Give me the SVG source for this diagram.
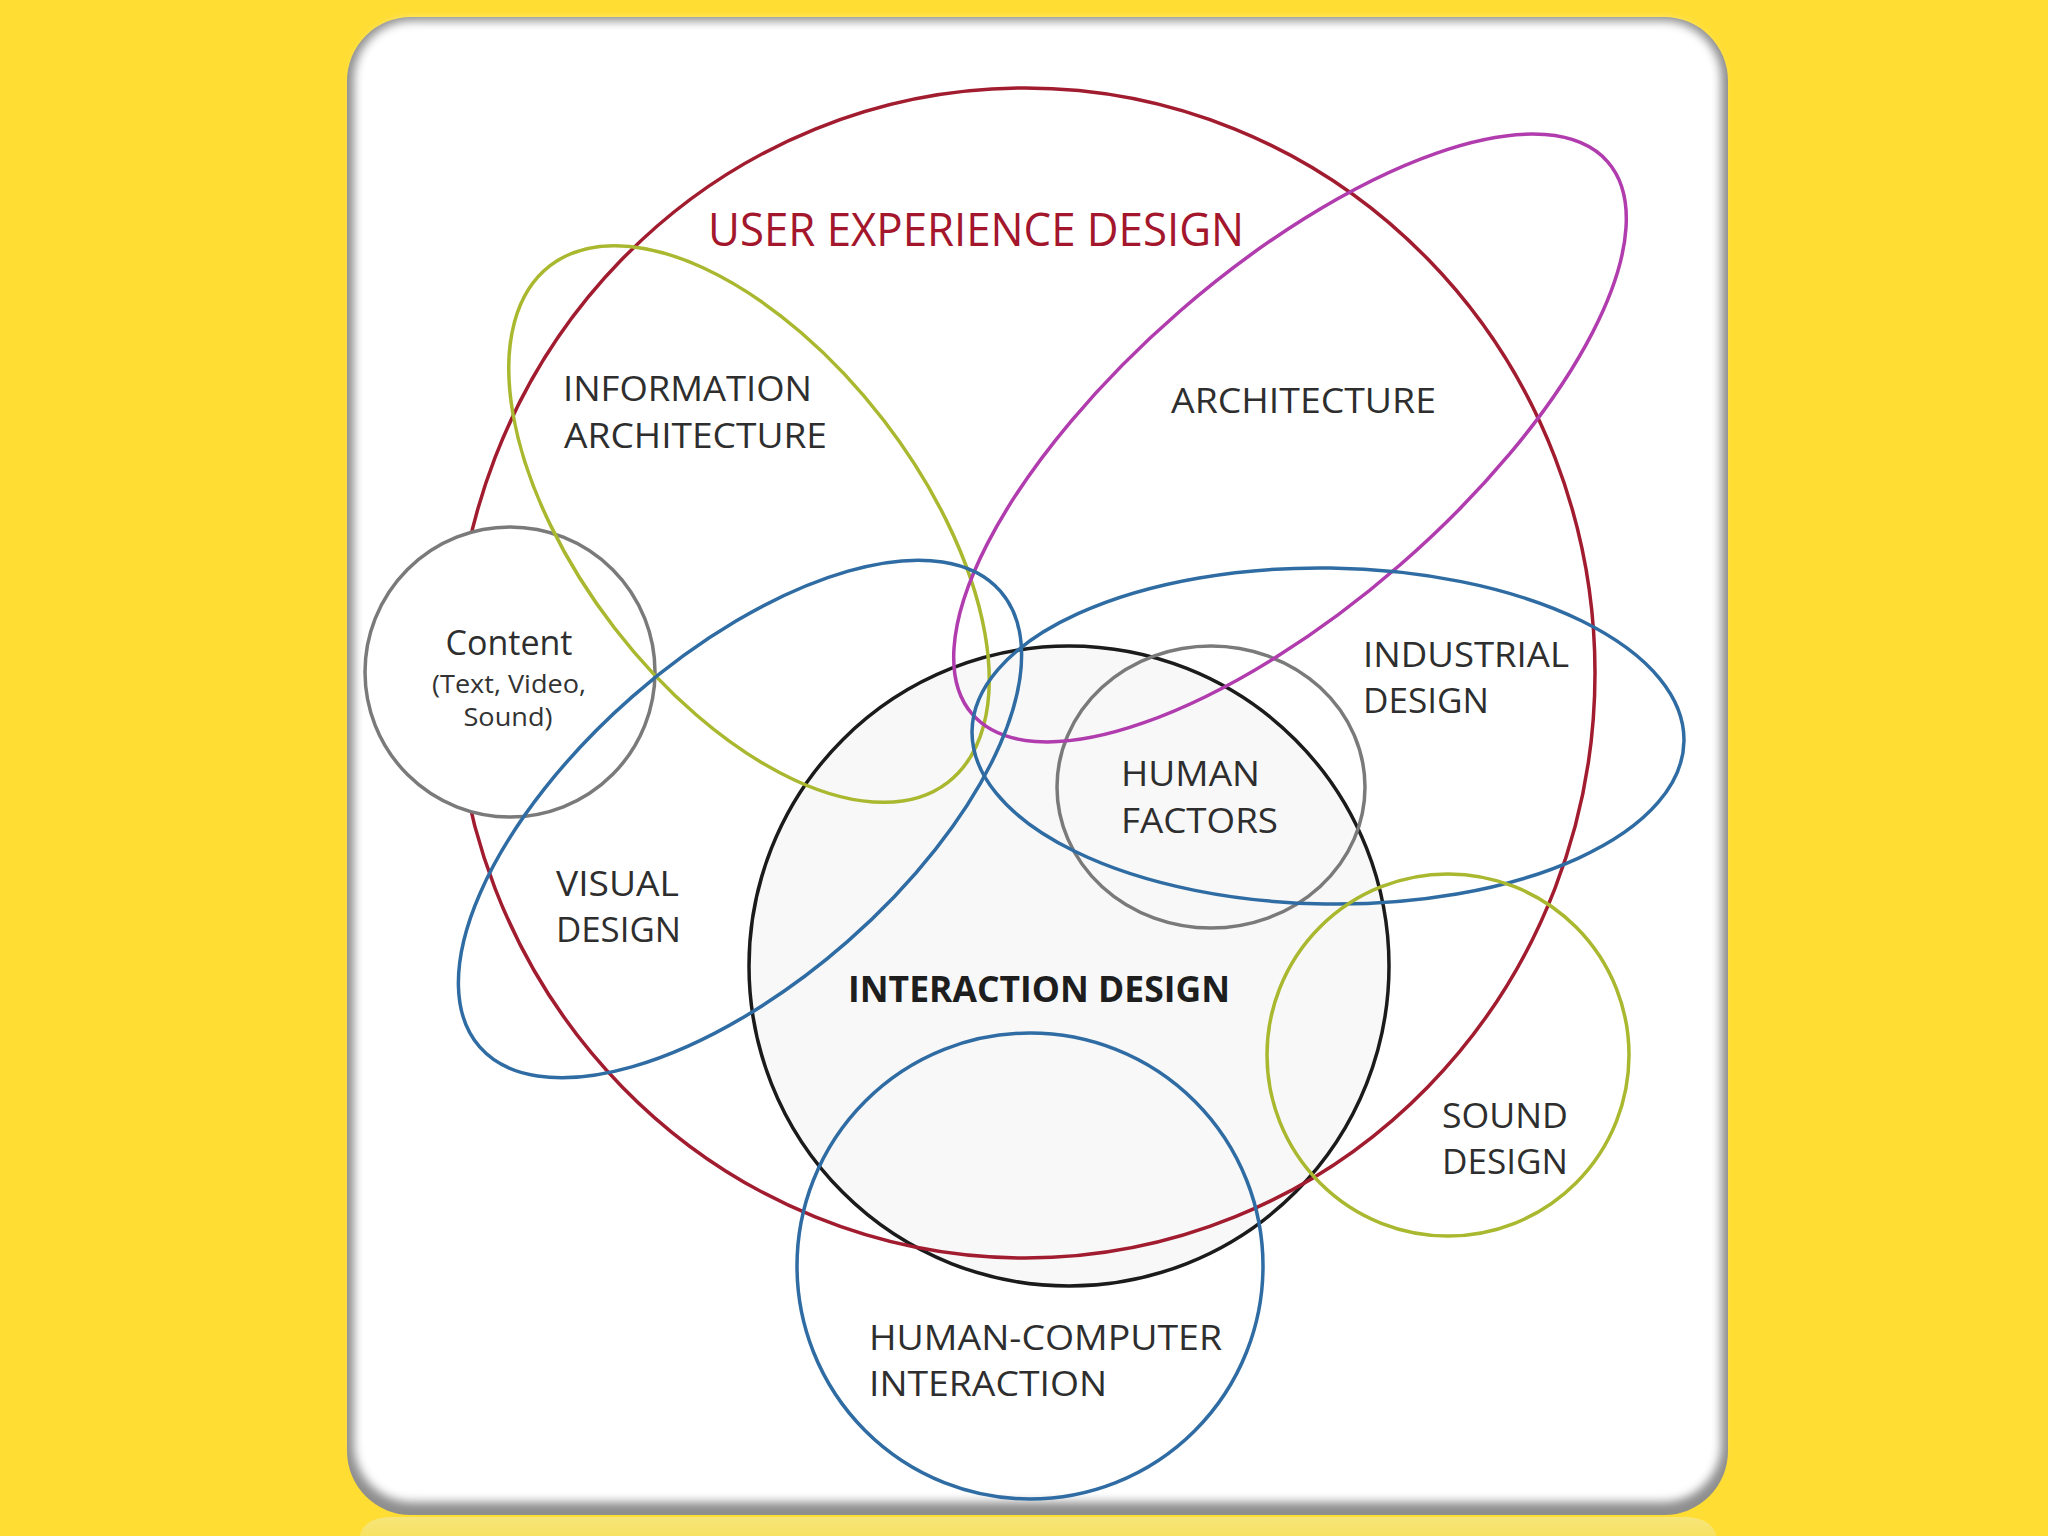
<svg xmlns="http://www.w3.org/2000/svg" width="2048" height="1536" viewBox="0 0 2048 1536">
  <defs>
    <filter id="soft" x="-5%" y="-5%" width="110%" height="110%">
      <feGaussianBlur stdDeviation="5"/>
    </filter>
    <linearGradient id="refl" x1="0" y1="0" x2="0" y2="1">
      <stop offset="0" stop-color="#F6E57A"/>
      <stop offset="1" stop-color="#FADF4A"/>
    </linearGradient>
  </defs>
  <style>
    .ring { fill: none; stroke-width: 3.5; }
    .filled-white { fill: #ffffff; stroke-width: 3.5; }
    .filled-gray { fill: #f8f8f9; stroke-width: 3.5; }
    .red { stroke: #a21c30; }
    .mag { stroke: #b03cae; }
    .lime { stroke: #a9b82e; }
    .blue { stroke: #2f6ca3; }
    .gray { stroke: #7a7a7a; }
    .black { stroke: #1b1b1b; }
    .lbl { font-family: "Open Sans", "Noto Sans", sans-serif; font-size: 35px; fill: #2e2e2e; }
    .title { font-family: "Open Sans", "Noto Sans", sans-serif; font-size: 46px; fill: #a3162c; }
    .bold { font-family: "Open Sans", "Noto Sans", sans-serif; font-size: 35px; font-weight: bold; fill: #1e1e1e; }
    .sub { font-family: "Open Sans", "Noto Sans", sans-serif; font-size: 26px; fill: #333; }
  </style>

  <!-- background -->
  <rect x="0" y="0" width="2048" height="1536" fill="#FFDD33"/>
  <rect x="360" y="1517" width="1356" height="40" rx="30" fill="url(#refl)"/>
  <!-- card -->
  <rect x="347" y="17" width="1381" height="1498" rx="64" fill="#8e8e8e"/>
  <rect x="354" y="21" width="1367" height="1481" rx="58" fill="#ffffff" filter="url(#soft)"/>

  <g id="interaction-design">
    <circle cx="1069" cy="966" r="320" class="filled-gray black"/>
  </g>
  <g id="user-experience-design">
    <ellipse cx="1025" cy="673" rx="570" ry="585" class="ring red"/>
  </g>
  <g id="content">
    <circle cx="510" cy="672" r="145" class="filled-white gray"/>
  </g>
  <g id="human-factors">
    <ellipse cx="1211" cy="787" rx="154" ry="141" class="ring gray"/>
  </g>
  <g id="information-architecture">
    <ellipse cx="749" cy="524" rx="326" ry="170" transform="rotate(52.4 749 524)" class="ring lime"/>
  </g>
  <g id="architecture">
    <ellipse cx="1290" cy="438" rx="421" ry="168" transform="rotate(-41 1290 438)" class="ring mag"/>
  </g>
  <g id="visual-design">
    <ellipse cx="740" cy="819" rx="346" ry="163" transform="rotate(-41.2 740 819)" class="ring blue"/>
  </g>
  <g id="industrial-design">
    <ellipse cx="1328" cy="736" rx="356" ry="168" transform="rotate(0.8 1328 736)" class="ring blue"/>
  </g>
  <g id="sound-design">
    <circle cx="1448" cy="1055" r="181" class="ring lime"/>
  </g>
  <g id="human-computer-interaction">
    <circle cx="1030" cy="1266" r="233" class="ring blue"/>
  </g>

  <g id="connectors"></g>

  <g id="labels">
    <text class="title" x="708" y="246" textLength="536" lengthAdjust="spacingAndGlyphs">USER EXPERIENCE DESIGN</text>
    <text class="lbl" x="563" y="401" textLength="249" lengthAdjust="spacingAndGlyphs">INFORMATION</text>
    <text class="lbl" x="564" y="448" textLength="263" lengthAdjust="spacingAndGlyphs">ARCHITECTURE</text>
    <text class="lbl" x="1171" y="413" textLength="265" lengthAdjust="spacingAndGlyphs">ARCHITECTURE</text>
    <text class="lbl" x="509" y="655" text-anchor="middle" style="font-size:34px" textLength="127" lengthAdjust="spacingAndGlyphs">Content</text>
    <text class="sub" x="509" y="693" text-anchor="middle" textLength="154" lengthAdjust="spacingAndGlyphs">(Text, Video,</text>
    <text class="sub" x="508" y="726" text-anchor="middle" textLength="89" lengthAdjust="spacingAndGlyphs">Sound)</text>
    <text class="lbl" x="1363" y="667" textLength="206" lengthAdjust="spacingAndGlyphs">INDUSTRIAL</text>
    <text class="lbl" x="1363" y="713" textLength="126" lengthAdjust="spacingAndGlyphs">DESIGN</text>
    <text class="lbl" x="1121" y="786" textLength="139" lengthAdjust="spacingAndGlyphs">HUMAN</text>
    <text class="lbl" x="1121" y="833" textLength="157" lengthAdjust="spacingAndGlyphs">FACTORS</text>
    <text class="lbl" x="556" y="896" textLength="123" lengthAdjust="spacingAndGlyphs">VISUAL</text>
    <text class="lbl" x="556" y="942" textLength="125" lengthAdjust="spacingAndGlyphs">DESIGN</text>
    <text class="bold" x="848" y="1002" textLength="382" lengthAdjust="spacingAndGlyphs">INTERACTION DESIGN</text>
    <text class="lbl" x="1442" y="1128" textLength="126" lengthAdjust="spacingAndGlyphs">SOUND</text>
    <text class="lbl" x="1442" y="1174" textLength="126" lengthAdjust="spacingAndGlyphs">DESIGN</text>
    <text class="lbl" x="869" y="1350" textLength="353" lengthAdjust="spacingAndGlyphs">HUMAN-COMPUTER</text>
    <text class="lbl" x="869" y="1396" textLength="238" lengthAdjust="spacingAndGlyphs">INTERACTION</text>
  </g>
</svg>
